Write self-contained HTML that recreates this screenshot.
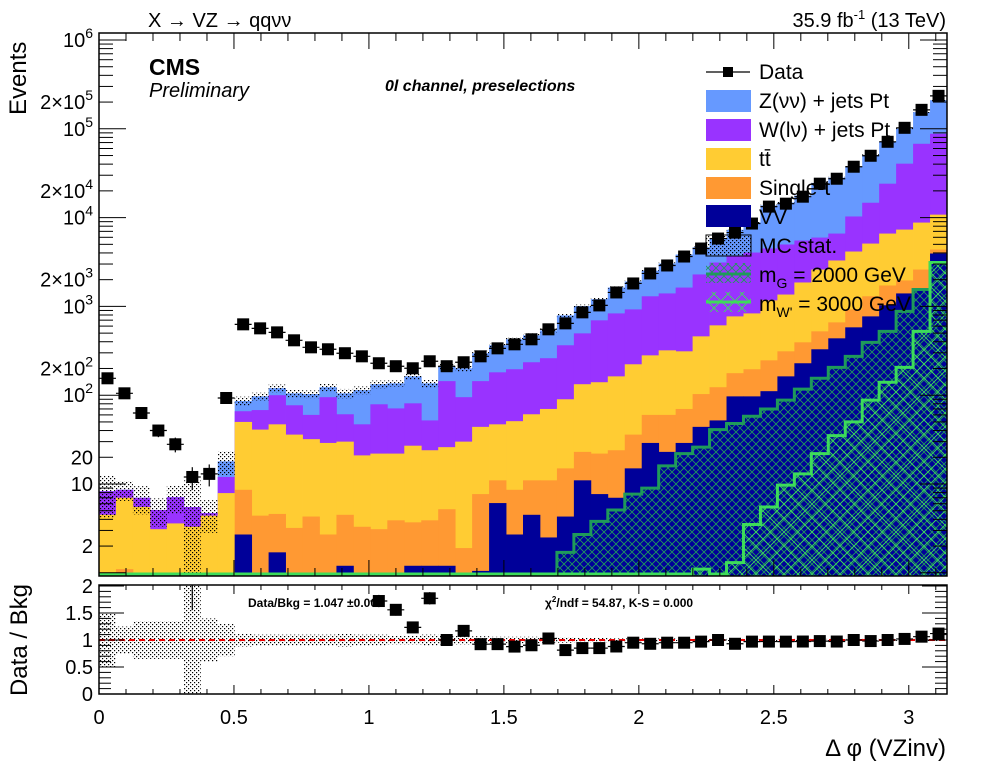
<!DOCTYPE html>
<html><head><meta charset="utf-8">
<style>
html,body{margin:0;padding:0;background:#fff;}
svg{display:block;font-family:"Liberation Sans",sans-serif;}
</style></head>
<body>
<svg id="chart" width="996" height="772" viewBox="0 0 996 772" xmlns="http://www.w3.org/2000/svg">
<defs>
<pattern id="dots" width="4" height="4" patternUnits="userSpaceOnUse"><rect x="0" y="0" width="1.2" height="1.2" fill="#000"/><rect x="2" y="2" width="1.2" height="1.2" fill="#000"/></pattern>
<pattern id="gHatch" width="8" height="8" patternUnits="userSpaceOnUse"><path d="M0,0L8,8M8,0L0,8" stroke="#1f9a5a" stroke-width="0.9" fill="none"/></pattern>
<pattern id="wpHatch" width="14" height="14" patternUnits="userSpaceOnUse"><path d="M0,0L14,14M14,0L0,14" stroke="#3ddc5a" stroke-width="0.9" fill="none"/></pattern>
<clipPath id="topClip"><rect x="99" y="33" width="848" height="543"/></clipPath>
<clipPath id="ratClip"><rect x="99" y="585" width="848" height="109"/></clipPath>
</defs>
<g id="topLayer" clip-path="url(#topClip)"></g>
<g id="ratLayer" clip-path="url(#ratClip)"></g>
<g id="axesLayer"></g>

<text x="148" y="27" font-size="20">X → VZ → qqνν</text>
<text x="946" y="27" font-size="20" text-anchor="end">35.9 fb<tspan font-size="13" dy="-8">-1</tspan><tspan dy="8">  (13 TeV)</tspan></text>
<text x="149" y="75" font-size="23" font-weight="bold">CMS</text>
<text x="149" y="97" font-size="20" font-style="italic">Preliminary</text>
<text x="385" y="91" font-size="16" font-weight="bold" font-style="italic">0l channel, preselections</text>

<text transform="translate(26,115) rotate(-90)" font-size="24">Events</text>
<text transform="translate(27,640) rotate(-90)" font-size="24" text-anchor="middle">Data / Bkg</text>
<text x="946" y="756" font-size="24" text-anchor="end">Δ φ (VZinv)</text>

<text x="248" y="607" font-size="12" font-weight="bold">Data/Bkg = 1.047  ±0.003</text>
<text x="545" y="607" font-size="12" font-weight="bold">χ<tspan font-size="8" dy="-5">2</tspan><tspan dy="5">/ndf = 54.87,   K-S = 0.000</tspan></text>

<g id="legend">
 <g>
  <line x1="706" y1="72" x2="750" y2="72" stroke="#000" stroke-width="1.2"/>
  <rect x="723" y="67" width="10" height="10" fill="#000"/>
  <text x="759" y="79" font-size="21">Data</text></g>
 <g>
  <rect x="706" y="90" width="45" height="22" fill="#6699ff"/>
  <text x="759" y="108" font-size="21">Z(νν) + jets Pt</text></g>
 <g>
  <rect x="706" y="119" width="45" height="22" fill="#9933ff"/>
  <text x="759" y="137" font-size="21">W(lν) + jets Pt</text></g>
 <g>
  <rect x="706" y="148" width="45" height="22" fill="#ffcc33"/>
  <text x="759" y="166" font-size="21">tt̄</text></g>
 <g>
  <rect x="706" y="177" width="45" height="22" fill="#ff9933"/>
  <text x="759" y="195" font-size="21">Single-t</text></g>
 <g>
  <rect x="706" y="205" width="45" height="22" fill="#000099"/>
  <text x="759" y="224" font-size="21">VV</text></g>
 <g>
  <rect x="706" y="235" width="45" height="21" fill="url(#dots)" stroke="#000" stroke-width="1"/>
  <text x="759" y="253" font-size="21">MC stat.</text></g>
 <g>
  <rect x="706" y="263" width="45" height="20" fill="url(#gHatch)"/>
  <line x1="706" y1="274" x2="751" y2="274" stroke="#1f9a5a" stroke-width="3"/>
  <text x="759" y="282" font-size="21">m<tspan font-size="14" dy="6">G</tspan><tspan dy="-6"> = 2000 GeV</tspan></text></g>
 <g>
  <rect x="706" y="292" width="45" height="20" fill="url(#wpHatch)"/>
  <line x1="706" y1="302" x2="751" y2="302" stroke="#3ddc5a" stroke-width="3"/>
  <text x="759" y="311" font-size="21">m<tspan font-size="14" dy="6">W'</tspan><tspan dy="-6"> = 3000 GeV</tspan></text></g>
</g>

<script>
// ---- data (50 bins in Δφ from 0 to π) ----
const dataCounts = [155,105,63,40,28,12,13,93,628,566,510,415,346,329,297,274,229,212,201,241,212,235,274,337,374,426,552,644,857,1026,1436,1813,2350,2890,3645,4485,5810,6780,8570,13300,14350,17200,24100,27400,37400,49700,71400,102600,163500,235000];
// cumulative stack tops (Events)
const stackZjets = [8.3,8.6,7.0,5.1,7.1,5.5,4.7,18,86,97,120,105,103,123,105,114,133,136,163,136,212,201,297,365,426,472,537,792,1008,1207,1632,1908,2527,3042,3837,4624,5810,7290,8835,13700,14800,17700,24600,28200,37400,50700,71400,100600,154000,210000];
const stackWjets = [8.3,8.6,7.0,5.1,7.1,5.5,4.7,12,66,68,100,77,60,95,61,47,79,71,81,52,144,95,144,181,196,235,261,365,497,697,834,925,1300,1400,1630,2290,3120,3650,4040,4490,4980,5520,5960,6610,10300,14700,24100,40500,67800,87900];
const stackTT = [4.5,7.0,5.5,3.1,3.6,3.3,4.4,7.9,50,41,47,36,32,29,30,21,22,22,27,24,26,30,44,47,51,61,70,90,133,140,163,223,281,320,312,460,612,772,834,1170,1360,1860,2600,3290,4150,5100,6610,7330,8790,10800];
const stackST = [0,1.1,0,0,0,0,0,0,8.6,4.4,4.6,3.2,4.3,2.7,4.5,3.3,3.1,3.9,3.7,3.9,5.2,1.9,7.7,11,8.6,11,11,15,23,22,24,36,60,60,70,103,123,177,196,247,312,394,524,661,925,1300,1720,1960,2600,4370];
const stackVV = [0,0,0,0,0,0,0,0,2.7,0,1.7,0,0,0,1.2,0,0,0,1.2,1.2,1.2,0,1.05,6.1,2.7,4.5,2.5,4.3,11,7.7,7.0,15,29,23,29,44,52,97,97,111,163,229,329,437,581,772,1030,1400,1590,3940];
const sigGraviton = [0,0,0,0,0,0,0,0,0,0,0,0,0,0,0,0,0,0,0,0,0,0,0,0,0,0,0,1.7,2.7,3.8,5.1,7.7,9.0,16,22,26,41,48,58,70,88,117,155,206,274,394,524,879,1550,3120];
const sigWprime = [0,0,0,0,0,0,0,0,0,0,0,0,0,0,0,0,0,0,0,0,0,0,0,0,0,0,0,0,0,0,0,0,0,0,0,1.1,0.9,1.3,3.5,5.5,9.7,13,22,35,50,88,140,206,524,3120];
const mcStatRel = [0.5,0.25,0.35,0.35,0.35,1.0,0.4,0.3,0.12,0.1,0.1,0.1,0.1,0.1,0.12,0.1,0.1,0.08,0.08,0.1,0.08,0.08,0.07,0.06,0.06,0.06,0.05,0.05,0.04,0.04,0.03,0.03,0.03,0.03,0.02,0.02,0.02,0.02,0.02,0.02,0.02,0.02,0.02,0.02,0.02,0.02,0.02,0.02,0.02,0.02];
const xTickLabels = ["0","0.5","1","1.5","2","2.5","3"];
const yTickLabels = ["1","10","10^2","10^3","10^4","10^5","10^6"];
const ratioTickLabels = ["0","0.5","1","1.5","2"];

const NS = "http://www.w3.org/2000/svg";
const X0 = 99, X1 = 947, XMAX = Math.PI, NB = dataCounts.length;
const TOP = 33, BOT = 576, R_TOP = 585, R_BOT = 694;
function xs(v){ return X0 + v / XMAX * (X1 - X0); }
function ys(v){ const l = Math.log10(Math.max(v, 1e-3)); return Math.min(BOT + 4, 40 + (6 - l) * 88.8); }
function yr(v){ return R_BOT - v * 54; }
function binL(i){ return xs(i * XMAX / NB); }
function binR(i){ return xs((i + 1) * XMAX / NB); }
function mk(tag, attrs, parent){ const e = document.createElementNS(NS, tag); for (const k in attrs) e.setAttribute(k, attrs[k]); parent.appendChild(e); return e; }

const topL = document.getElementById('topLayer');
const ratL = document.getElementById('ratLayer');
const axL = document.getElementById('axesLayer');

function drawStack(arr, color, name){
  const g = mk('g', {}, topL);
  
  
  arr.forEach((v, i) => {
    if (v <= 0) return;
    const y = ys(v);
    const r = mk('rect', {x: binL(i), y: y, width: binR(i) - binL(i) + 0.4, height: Math.max(0, BOT + 4 - y), fill: color}, g);
    
    
  });
}
drawStack(stackZjets, '#6699ff', 'zjets-stack');
drawStack(stackWjets, '#9933ff', 'wjets-stack');
drawStack(stackTT, '#ffcc33', 'ttbar-stack');
drawStack(stackST, '#ff9933', 'single-top-stack');
drawStack(stackVV, '#000099', 'diboson-stack');

function sigArea(arr, fill, stroke, name){
  let d = 'M' + X0 + ',' + (BOT + 4);
  let line = '';
  arr.forEach((v, i) => {
    const y = v > 0 ? Math.min(ys(v), BOT - 2) : BOT - 2;
    d += 'L' + binL(i) + ',' + y + 'L' + binR(i) + ',' + y;
    line += (i === 0 ? 'M' : 'L') + binL(i) + ',' + y + 'L' + binR(i) + ',' + y;
  });
  d += 'L' + X1 + ',' + (BOT + 4) + 'Z';
  const a = mk('path', {d: d, fill: fill}, topL);
  
  
  return line;
}
const gLine = sigArea(sigGraviton, 'url(#gHatch)', '#1f9a5a', 'graviton-signal');
const wLine = sigArea(sigWprime, 'url(#wpHatch)', '#3ddc5a', 'wprime-signal');

// MC stat band
const band = mk('g', {}, topL);


stackZjets.forEach((v, i) => {
  const e = mcStatRel[i];
  const y1 = ys(v * (1 + e)), y2 = ys(Math.max(v * (1 - e), 0.5));
  mk('rect', {x: binL(i), y: y1, width: binR(i) - binL(i), height: y2 - y1, fill: 'url(#dots)'}, band);
});

const gl = mk('path', {d: gLine, fill: 'none', stroke: '#1f9a5a', 'stroke-width': 3}, topL);


const wl = mk('path', {d: wLine, fill: 'none', stroke: '#3ddc5a', 'stroke-width': 3}, topL);



// data points
const dg = mk('g', {}, topL);


dataCounts.forEach((v, i) => {
  const cx = (binL(i) + binR(i)) / 2, cy = ys(v), s = Math.sqrt(v);
  mk('line', {x1: binL(i), x2: binR(i), y1: cy, y2: cy, stroke: '#000', 'stroke-width': 1.2}, dg);
  mk('line', {x1: cx, x2: cx, y1: ys(v + s), y2: ys(Math.max(v - s, 0.5)), stroke: '#000', 'stroke-width': 1.2}, dg);
  const p = mk('rect', {x: cx - 6, y: cy - 6, width: 12, height: 12, fill: '#000'}, dg);
  
  
});

// ratio panel
const rb = mk('g', {}, ratL);


mcStatRel.forEach((e, i) => {
  mk('rect', {x: binL(i), y: yr(1 + e), width: binR(i) - binL(i), height: yr(1 - e) - yr(1 + e), fill: 'url(#dots)'}, rb);
});
const rl = mk('line', {x1: X0, x2: X1, y1: yr(1), y2: yr(1), stroke: '#e00', 'stroke-width': 2, 'stroke-dasharray': '6,4'}, ratL);


const rp = mk('g', {}, ratL);


dataCounts.forEach((v, i) => {
  const b = stackZjets[i]; if (!(b > 0)) return;
  const r = v / b; if (r > 2.3) return;
  const cx = (binL(i) + binR(i)) / 2, cy = yr(r), er = Math.sqrt(v) / b;
  mk('line', {x1: binL(i), x2: binR(i), y1: cy, y2: cy, stroke: '#000', 'stroke-width': 1.2}, rp);
  mk('line', {x1: cx, x2: cx, y1: yr(r + er), y2: yr(r - er), stroke: '#000', 'stroke-width': 1.2}, rp);
  const p = mk('rect', {x: cx - 6, y: cy - 6, width: 12, height: 12, fill: '#000'}, rp);
  
  
});

// axes frames
const f1 = mk('rect', {x: X0, y: TOP, width: X1 - X0, height: BOT - TOP, fill: 'none', stroke: '#000', 'stroke-width': 1.5}, axL);


const f2 = mk('rect', {x: X0, y: R_TOP, width: X1 - X0, height: R_BOT - R_TOP, fill: 'none', stroke: '#000', 'stroke-width': 1.5}, axL);



function tick(x1, y1, x2, y2){ mk('line', {x1: x1, y1: y1, x2: x2, y2: y2, stroke: '#000', 'stroke-width': 1}, axL); }
// x ticks
for (let k = 0; k <= 31; k++){
  const v = k * 0.1, x = xs(v), maj = k % 5 === 0;
  tick(x, BOT, x, BOT - (maj ? 16 : 8)); tick(x, TOP, x, TOP + (maj ? 16 : 8));
  tick(x, R_BOT, x, R_BOT - (maj ? 9 : 5)); tick(x, R_TOP, x, R_TOP + (maj ? 9 : 5));
}
xTickLabels.forEach((s, k) => {
  const t = mk('text', {x: xs(k * 0.5), y: 724, 'font-size': 20, 'text-anchor': 'middle'}, axL);
  t.textContent = s;
  
  
});
// log y ticks
for (let d = 0; d <= 6; d++){
  for (let m = 1; m <= 9; m++){
    const v = m * Math.pow(10, d); const y = ys(v);
    if (y < TOP || y > BOT) continue;
    const L = m === 1 ? 27 : 14;
    tick(X0, y, X0 + L, y); tick(X1, y, X1 - L, y);
  }
}
function ylab(txt, y){
  const t = mk('text', {x: 93, y: y + 7, 'font-size': 20, 'text-anchor': 'end'}, axL);
  
  
  const p = txt.split('^');
  if (p.length === 1) { t.textContent = txt; return; }
  const a = document.createElementNS(NS, 'tspan'); a.textContent = p[0]; t.appendChild(a);
  const b = document.createElementNS(NS, 'tspan'); b.setAttribute('dy', '-9'); b.setAttribute('font-size', '14'); b.textContent = p[1]; t.appendChild(b);
}
yTickLabels.forEach((s, d) => { if (d >= 1) ylab(s, ys(Math.pow(10, d))); if (d >= 1 && d <= 5) ylab(d === 1 ? '20' : (d === 2 ? '2×10^2' : '2×10^' + d), ys(2 * Math.pow(10, d))); });
ylab('2', ys(2));
// ratio y ticks
for (let k = 0; k <= 20; k++){
  const y = yr(k * 0.1), maj = k % 5 === 0;
  tick(X0, y, X0 + (maj ? 25 : 12), y); tick(X1, y, X1 - (maj ? 25 : 12), y);
}
ratioTickLabels.forEach((s, k) => {
  const t = mk('text', {x: 93, y: yr(k * 0.5) + 7, 'font-size': 20, 'text-anchor': 'end'}, axL);
  t.textContent = s;
  
  
});
</script>
</svg>
</body></html>
